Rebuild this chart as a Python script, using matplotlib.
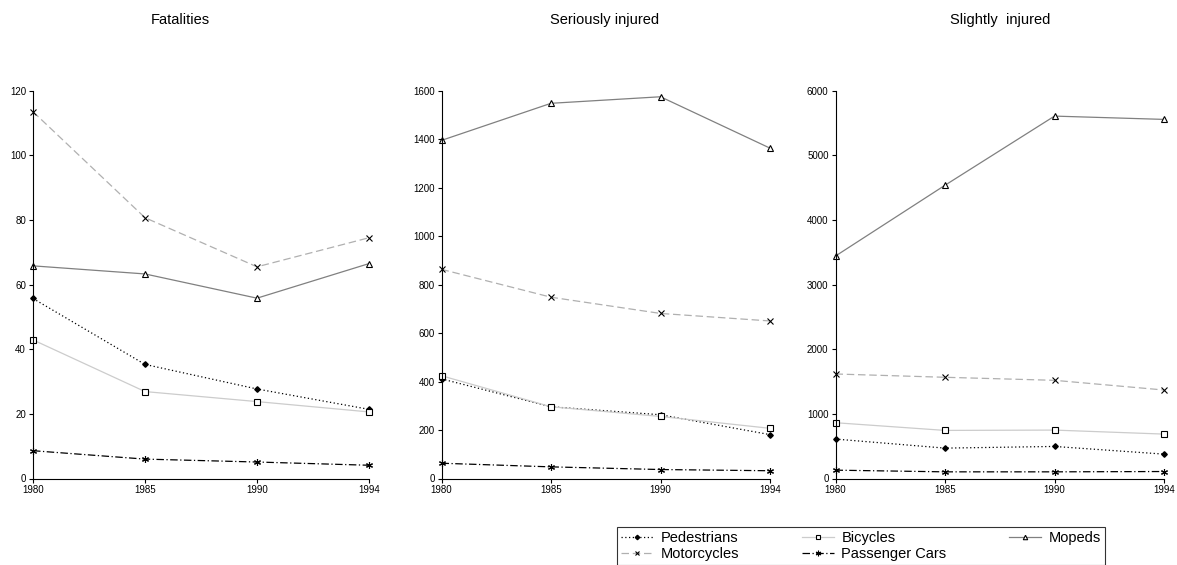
import matplotlib.pyplot as plt
from matplotlib.lines import Line2D

plt.rcParams['font.family'] = ['Liberation Sans', 'DejaVu Sans']

years = ['1980', '1985', '1990', '1994']
titles = ['Fatalities', 'Seriously injured', 'Slightly  injured']
title_x = [180, 605, 1000]

# values
fatal = {
    'Pedestrians': [55.7, 35.3, 27.7, 21.4],
    'Bicycles': [42.9, 26.9, 23.8, 20.6],
    'Mopeds': [65.8, 63.3, 55.8, 66.5],
    'Motorcycles': [113.5, 80.7, 65.5, 74.5],
    'Passenger Cars': [8.6, 6.0, 5.1, 4.1],
}
serious = {
    'Pedestrians': [411, 296, 263, 181],
    'Bicycles': [424, 296, 256, 207],
    'Mopeds': [1395, 1548, 1575, 1363],
    'Motorcycles': [863, 748, 681, 650],
    'Passenger Cars': [63, 48, 37, 32],
}
slight = {
    'Pedestrians': [610, 470, 496, 377],
    'Bicycles': [863, 744, 749, 687],
    'Mopeds': [3442, 4537, 5607, 5556],
    'Motorcycles': [1617, 1566, 1519, 1369],
    'Passenger Cars': [129, 103, 103, 108],
}
panels = [fatal, serious, slight]
ymax = [120, 1600, 6000]
ystep = [20, 200, 1000]

styles = {
    'Pedestrians': dict(color='black', ls=(0, (1, 2)), marker='D', ms=2.8,
                        mfc='black', mec='black'),
    'Bicycles': dict(color='#cccccc', ls='-', marker='s', ms=4,
                     mfc='white', mec='black', mew=0.8),
    'Mopeds': dict(color='#808080', ls='-', marker='^', ms=4,
                   mfc='white', mec='black', mew=0.8),
    'Motorcycles': dict(color='#b0b0b0', ls=(0, (6, 3)), marker='x', ms=4,
                        mec='black', mew=0.8),
    'Passenger Cars': dict(color='black', ls=(0, (6, 2, 1, 2)), marker=(6, 2, 0),
                           ms=5, mec='black', mew=0.8),
}

W, H = 1177, 565
fig = plt.figure(figsize=(W / 100, H / 100), dpi=100)

lefts = [33, 441.5, 835.5]
rights = [369, 770, 1164]
top, bottom = 90.7, 478.5

for i, data in enumerate(panels):
    ax = fig.add_axes([lefts[i] / W, (H - bottom) / H,
                       (rights[i] - lefts[i]) / W, (bottom - top) / H])
    x = list(range(len(years)))
    for name, vals in data.items():
        ax.plot(x, vals, lw=0.9, clip_on=False, **styles[name])
    ax.set_xlim(0, 3)
    ax.set_ylim(0, ymax[i])
    ax.set_xticks(x)
    ax.set_xticklabels(years)
    ax.set_yticks(range(0, ymax[i] + 1, ystep[i]))
    for s in ['top', 'right']:
        ax.spines[s].set_visible(False)
    ax.spines['left'].set_linewidth(0.8)
    ax.spines['bottom'].set_linewidth(0.8)
    ax.tick_params(labelsize=7, length=3, width=0.8, direction='out', pad=2)
    fig.text(title_x[i] / W, 1 - 20 / H, titles[i], ha='center', va='center',
             fontsize=10.5)

# legend is filled row by row in the reference
order = ['Pedestrians', 'Motorcycles', 'Bicycles', 'Passenger Cars', 'Mopeds']
handles = [Line2D([], [], lw=0.9, **dict(styles[n], ms=styles[n]['ms'] * 0.8))
           for n in order]
leg = fig.legend(handles, order, loc='upper left', ncol=3,
                 bbox_to_anchor=(617 / W, 1 - 527 / H), frameon=True,
                 fancybox=False, edgecolor='black', fontsize=10.5,
                 handlelength=2.2, handletextpad=0.5, columnspacing=4.3,
                 borderpad=0.3, labelspacing=0.1, borderaxespad=0)
leg.get_frame().set_linewidth(0.8)

fig.savefig('out.png', dpi=100)
